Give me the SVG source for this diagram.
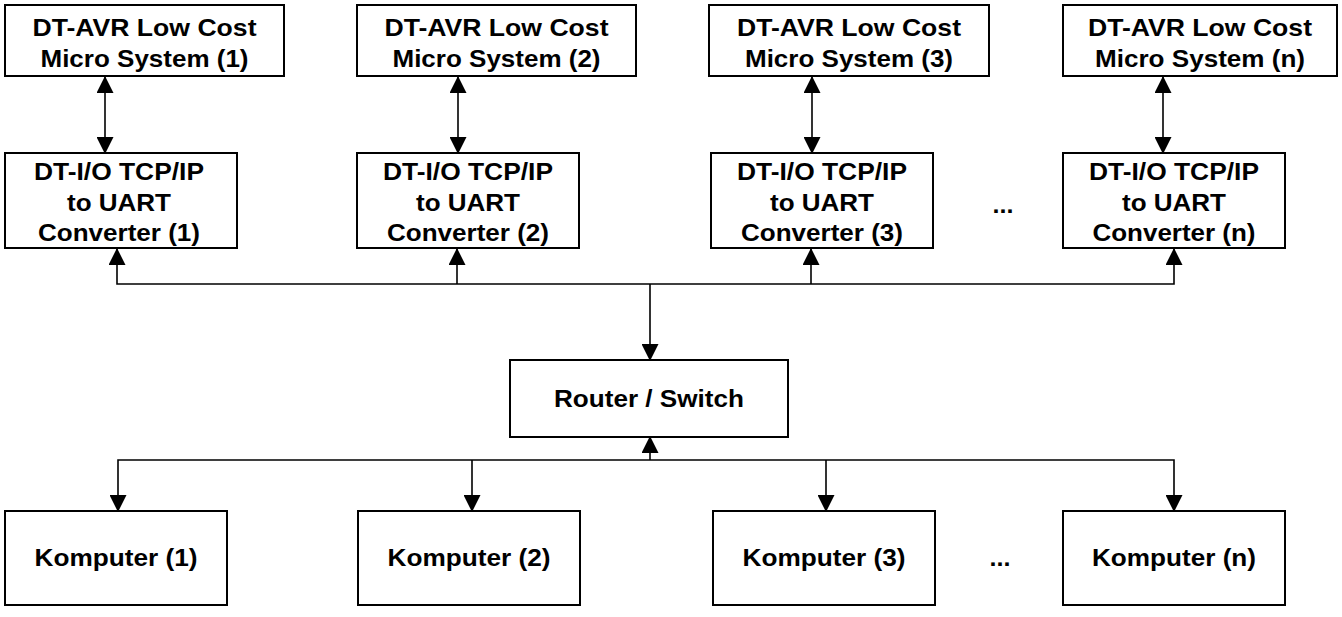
<svg xmlns="http://www.w3.org/2000/svg" width="1342" height="617" viewBox="0 0 1342 617">
<style>
.box{fill:#fff;stroke:#000;stroke-width:2}
.t{font-family:"Liberation Sans",Arial,sans-serif;font-weight:bold;font-size:24px;fill:#000;text-anchor:middle}
.c{fill:none;stroke:#000;stroke-width:1.6}
</style>
<defs>
<marker id="ah" markerUnits="userSpaceOnUse" markerWidth="17" markerHeight="17" viewBox="0 0 17 17" refX="16" refY="8.5" orient="auto-start-reverse">
<path d="M0,0 L17,8.5 L0,17 z" fill="#000"/>
</marker>
</defs>
<rect width="1342" height="617" fill="#fff"/>
<g id="connectors">
<line class="c" x1="105" y1="77" x2="105" y2="153" marker-start="url(#ah)" marker-end="url(#ah)"/>
<line class="c" x1="458" y1="77" x2="458" y2="153" marker-start="url(#ah)" marker-end="url(#ah)"/>
<line class="c" x1="812" y1="77" x2="812" y2="153" marker-start="url(#ah)" marker-end="url(#ah)"/>
<line class="c" x1="1163" y1="77" x2="1163" y2="153" marker-start="url(#ah)" marker-end="url(#ah)"/>
<polyline class="c" points="117,249 117,284 1174,284 1174,249" marker-start="url(#ah)" marker-end="url(#ah)"/>
<line class="c" x1="457" y1="284" x2="457" y2="249" marker-end="url(#ah)"/>
<line class="c" x1="811" y1="284" x2="811" y2="249" marker-end="url(#ah)"/>
<line class="c" x1="650" y1="284" x2="650" y2="360" marker-end="url(#ah)"/>
<line class="c" x1="650" y1="460" x2="650" y2="437" marker-end="url(#ah)"/>
<polyline class="c" points="118,511 118,460 1174,460 1174,511" marker-start="url(#ah)" marker-end="url(#ah)"/>
<line class="c" x1="472" y1="460" x2="472" y2="511" marker-end="url(#ah)"/>
<line class="c" x1="826" y1="460" x2="826" y2="511" marker-end="url(#ah)"/>
</g>
<g id="avr1"><rect class="box" x="5" y="5" width="279" height="71"/><text class="t" x="144.5" y="36" textLength="224" lengthAdjust="spacingAndGlyphs">DT-AVR Low Cost</text><text class="t" x="144.5" y="67" textLength="208" lengthAdjust="spacingAndGlyphs">Micro System (1)</text></g>
<g id="avr2"><rect class="box" x="357" y="5" width="279" height="71"/><text class="t" x="496.5" y="36" textLength="224" lengthAdjust="spacingAndGlyphs">DT-AVR Low Cost</text><text class="t" x="496.5" y="67" textLength="208" lengthAdjust="spacingAndGlyphs">Micro System (2)</text></g>
<g id="avr3"><rect class="box" x="709" y="5" width="280" height="71"/><text class="t" x="849" y="36" textLength="224" lengthAdjust="spacingAndGlyphs">DT-AVR Low Cost</text><text class="t" x="849" y="67" textLength="208" lengthAdjust="spacingAndGlyphs">Micro System (3)</text></g>
<g id="avrn"><rect class="box" x="1063" y="5" width="274" height="71"/><text class="t" x="1200" y="36" textLength="224" lengthAdjust="spacingAndGlyphs">DT-AVR Low Cost</text><text class="t" x="1200" y="67" textLength="210" lengthAdjust="spacingAndGlyphs">Micro System (n)</text></g>
<g id="conv1"><rect class="box" x="5" y="153" width="232" height="95"/><text class="t" x="119" y="180" textLength="170" lengthAdjust="spacingAndGlyphs">DT-I/O TCP/IP</text><text class="t" x="119" y="211" textLength="104" lengthAdjust="spacingAndGlyphs">to UART</text><text class="t" x="119" y="241" textLength="162" lengthAdjust="spacingAndGlyphs">Converter (1)</text></g>
<g id="conv2"><rect class="box" x="357" y="153" width="222" height="95"/><text class="t" x="468" y="180" textLength="170" lengthAdjust="spacingAndGlyphs">DT-I/O TCP/IP</text><text class="t" x="468" y="211" textLength="104" lengthAdjust="spacingAndGlyphs">to UART</text><text class="t" x="468" y="241" textLength="162" lengthAdjust="spacingAndGlyphs">Converter (2)</text></g>
<g id="conv3"><rect class="box" x="711" y="153" width="222" height="95"/><text class="t" x="822" y="180" textLength="170" lengthAdjust="spacingAndGlyphs">DT-I/O TCP/IP</text><text class="t" x="822" y="211" textLength="104" lengthAdjust="spacingAndGlyphs">to UART</text><text class="t" x="822" y="241" textLength="162" lengthAdjust="spacingAndGlyphs">Converter (3)</text></g>
<g id="dots1"><text class="t" x="1003" y="213" textLength="21" lengthAdjust="spacingAndGlyphs">...</text></g>
<g id="convn"><rect class="box" x="1063" y="153" width="222" height="95"/><text class="t" x="1174" y="180" textLength="170" lengthAdjust="spacingAndGlyphs">DT-I/O TCP/IP</text><text class="t" x="1174" y="211" textLength="104" lengthAdjust="spacingAndGlyphs">to UART</text><text class="t" x="1174" y="241" textLength="163" lengthAdjust="spacingAndGlyphs">Converter (n)</text></g>
<g id="router"><rect class="box" x="510" y="360" width="278" height="77"/><text class="t" x="649" y="407" textLength="190" lengthAdjust="spacingAndGlyphs">Router / Switch</text></g>
<g id="pc1"><rect class="box" x="5" y="511" width="222" height="94"/><text class="t" x="116" y="566" textLength="163" lengthAdjust="spacingAndGlyphs">Komputer (1)</text></g>
<g id="pc2"><rect class="box" x="358" y="511" width="222" height="94"/><text class="t" x="469" y="566" textLength="163" lengthAdjust="spacingAndGlyphs">Komputer (2)</text></g>
<g id="pc3"><rect class="box" x="713" y="511" width="222" height="94"/><text class="t" x="824" y="566" textLength="163" lengthAdjust="spacingAndGlyphs">Komputer (3)</text></g>
<g id="dots2"><text class="t" x="1000" y="566" textLength="21" lengthAdjust="spacingAndGlyphs">...</text></g>
<g id="pcn"><rect class="box" x="1063" y="511" width="222" height="94"/><text class="t" x="1174" y="566" textLength="164" lengthAdjust="spacingAndGlyphs">Komputer (n)</text></g>
</svg>
